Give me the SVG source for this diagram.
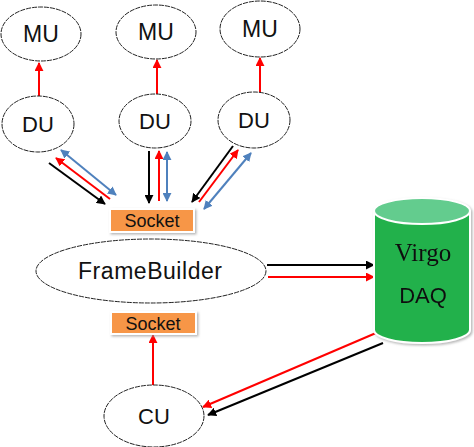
<svg xmlns="http://www.w3.org/2000/svg" width="474" height="447" viewBox="0 0 474 447">
<style>
.node{fill:#fff;stroke:#222;stroke-width:1;stroke-dasharray:5 1}
.lbl{font-family:"Liberation Sans","Open Sans",Arial,sans-serif;fill:#111;text-anchor:middle}
.sock{fill:#F79646;stroke:#fff;stroke-width:2}
.k{stroke:#000;stroke-width:2;fill:none}
.r{stroke:#f00;stroke-width:2;fill:none}
.b{stroke:#4F81BD;stroke-width:2;fill:none}
</style>
<defs>
<marker id="ak" viewBox="0 0 10 10" refX="9" refY="5" markerWidth="4.5" markerHeight="4.5" orient="auto-start-reverse" markerUnits="strokeWidth"><path d="M0,0L10,5L0,10z" fill="#000"/></marker>
<marker id="ar" viewBox="0 0 10 10" refX="9" refY="5" markerWidth="4.5" markerHeight="4.5" orient="auto-start-reverse" markerUnits="strokeWidth"><path d="M0,0L10,5L0,10z" fill="#f00"/></marker>
<marker id="ab" viewBox="0 0 10 10" refX="9" refY="5" markerWidth="4.5" markerHeight="4.5" orient="auto-start-reverse" markerUnits="strokeWidth"><path d="M0,0L10,5L0,10z" fill="#4F81BD"/></marker>
<filter id="sh" x="-10%" y="-10%" width="130%" height="140%"><feDropShadow dx="1.5" dy="1.5" stdDeviation="1" flood-color="#999" flood-opacity="0.7"/></filter>
</defs>

<g id="connectors">
<line class="r" x1="39" y1="96" x2="39" y2="63" marker-end="url(#ar)"/>
<line class="r" x1="157" y1="94" x2="157" y2="60" marker-end="url(#ar)"/>
<line class="r" x1="260" y1="92" x2="260" y2="58" marker-end="url(#ar)"/>
<line class="k" x1="49" y1="163" x2="105" y2="204" marker-end="url(#ak)"/>
<line class="r" x1="110" y1="199" x2="56" y2="158" marker-end="url(#ar)"/>
<line class="b" x1="61" y1="150" x2="116" y2="195" marker-start="url(#ab)" marker-end="url(#ab)"/>
<line class="k" x1="149" y1="151" x2="149" y2="203" marker-end="url(#ak)"/>
<line class="r" x1="159" y1="201" x2="159" y2="151" marker-end="url(#ar)"/>
<line class="b" x1="167" y1="152" x2="167" y2="201" marker-start="url(#ab)" marker-end="url(#ab)"/>
<line class="k" x1="233" y1="146" x2="192" y2="202" marker-end="url(#ak)"/>
<line class="r" x1="199" y1="202" x2="238" y2="150" marker-end="url(#ar)"/>
<line class="b" x1="204" y1="209" x2="251" y2="153" marker-start="url(#ab)" marker-end="url(#ab)"/>
<line class="k" x1="267" y1="265" x2="374" y2="265" marker-end="url(#ak)"/>
<line class="r" x1="268" y1="277" x2="374" y2="277" marker-end="url(#ar)"/>
<line class="r" x1="376" y1="333" x2="203" y2="407" marker-end="url(#ar)"/>
<line class="k" x1="383" y1="343" x2="208" y2="415" marker-end="url(#ak)"/>
<line class="r" x1="153" y1="385" x2="153" y2="335" marker-end="url(#ar)"/>
</g>

<g id="mu1"><ellipse class="node" cx="41" cy="34" rx="40" ry="27"/><text class="lbl" x="41" y="42" font-size="23">MU</text></g>
<g id="mu2"><ellipse class="node" cx="156" cy="32" rx="40" ry="27"/><text class="lbl" x="156" y="40" font-size="23">MU</text></g>
<g id="mu3"><ellipse class="node" cx="260" cy="29" rx="40" ry="28"/><text class="lbl" x="260" y="37" font-size="23">MU</text></g>

<g id="du1"><ellipse class="node" cx="38" cy="124" rx="36" ry="28"/><text class="lbl" x="38" y="132" font-size="22">DU</text></g>
<g id="du2"><ellipse class="node" cx="155" cy="121" rx="36" ry="27"/><text class="lbl" x="155" y="129" font-size="22">DU</text></g>
<g id="du3"><ellipse class="node" cx="254" cy="120" rx="36" ry="28"/><text class="lbl" x="254" y="128" font-size="22">DU</text></g>

<g id="socket-top"><rect class="sock" x="110" y="209" width="84" height="23" filter="url(#sh)"/><text class="lbl" x="152" y="227" font-size="18">Socket</text></g>
<g id="framebuilder"><ellipse class="node" cx="151" cy="271" rx="115" ry="32"/><text class="lbl" x="150" y="279" font-size="23" textLength="144" lengthAdjust="spacing">FrameBuilder</text></g>
<g id="socket-bottom"><rect class="sock" x="111" y="312" width="85" height="22" filter="url(#sh)"/><text class="lbl" x="153" y="330" font-size="18">Socket</text></g>
<g id="cu"><ellipse class="node" cx="154" cy="416" rx="50" ry="31"/><text class="lbl" x="154" y="424" font-size="22">CU</text></g>

<g id="virgo-daq" filter="url(#sh)">
<path d="M374,211 L374,330 A48,13 0 0 0 470,330 L470,211 Z" fill="#22B14C" stroke="#fff" stroke-width="2"/>
<ellipse cx="422" cy="211" rx="48" ry="13" fill="#63CC8E" stroke="#fff" stroke-width="2"/>
<text x="423" y="261" font-family="Liberation Serif,serif" font-size="25" text-anchor="middle" fill="#111">Virgo</text>
<text class="lbl" x="423" y="303" font-size="22">DAQ</text>
</g>
</svg>
